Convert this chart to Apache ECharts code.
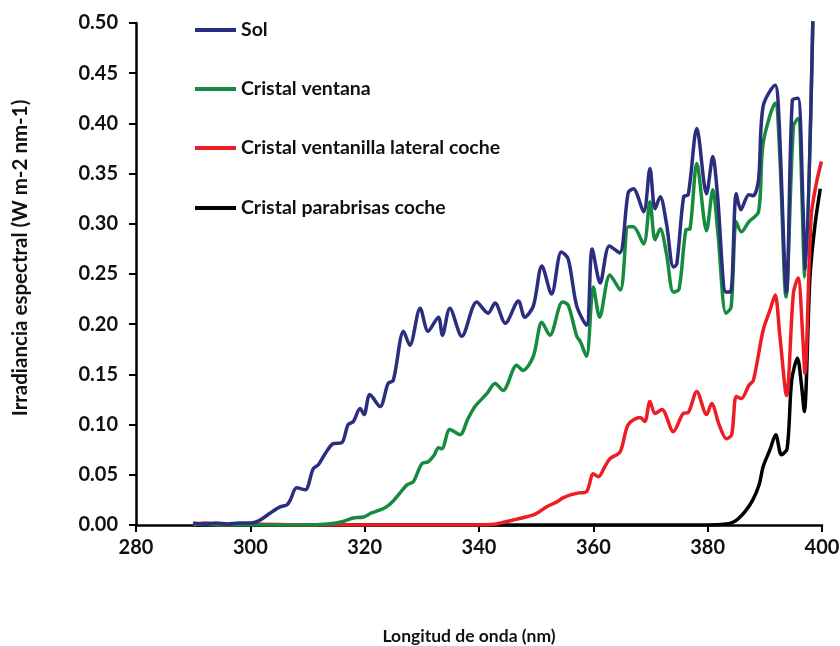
<!DOCTYPE html>
<html>
<head>
<meta charset="utf-8">
<script src="https://cdn.jsdelivr.net/npm/echarts@6/dist/echarts.min.js"></script>
<style>
html,body{margin:0;padding:0;background:#fff;}
#chart{width:840px;height:646px;}
</style>
</head>
<body>
<div id="chart"></div>
<script>
var xTicks = [280, 300, 320, 340, 360, 380, 400];
var yTicks = [0.00, 0.05, 0.10, 0.15, 0.20, 0.25, 0.30, 0.35, 0.40, 0.45, 0.50];
var seriesNames = ['Sol', 'Cristal ventana', 'Cristal ventanilla lateral coche', 'Cristal parabrisas coche'];

var solNm  = [290,292,294,296,298,300,301,302,303.5,305.2,306.4,307,308.1,309.6,311,311.9,313.2,314.5,316,317.1,318,319.2,319.9,320.9,322.7,324.1,325,326.8,327.9,329.7,331.1,332.9,333.6,334.9,337,339.6,341.6,342.8,344.6,346.9,348,349.5,351,352.7,354.4,355.6,357.1,358.8,359.8,361.2,362.8,364.6,366.1,367,368.8,369.9,370.8,371.7,372.8,374,374.6,375.8,376.6,378.1,379.8,380.9,381.7,383.2,384,385,385.8,387.2,388,388.9,389.7,391.8,392.4,393.8,394.8,395.8,396.7,397.1,398.6];
var solVal = [0.002,0.001,0.002,0.001,0.002,0.002,0.003,0.006,0.012,0.018,0.020,0.025,0.037,0.035,0.056,0.060,0.072,0.081,0.082,0.100,0.103,0.116,0.110,0.130,0.118,0.141,0.144,0.193,0.179,0.216,0.193,0.207,0.189,0.216,0.188,0.222,0.211,0.221,0.201,0.223,0.207,0.218,0.258,0.230,0.272,0.265,0.218,0.199,0.275,0.241,0.278,0.271,0.331,0.335,0.312,0.355,0.315,0.327,0.300,0.257,0.260,0.327,0.329,0.395,0.330,0.367,0.330,0.232,0.232,0.330,0.314,0.329,0.328,0.344,0.417,0.438,0.413,0.232,0.423,0.425,0.314,0.255,0.560];

var ventNm  = [290,300,310,315,316.5,318,319.8,321.2,322.7,323.8,325,326.2,327.4,328.5,330,331.1,332.2,332.9,333.5,334.9,336.7,338,339.3,341.4,342.8,344.2,346.6,347.7,349.5,351,352.4,354.6,355.6,357.1,357.7,358.8,360,361.1,362.9,364.7,366.1,367,368.8,369.9,370.8,371.7,372.8,374,375,376.2,376.9,378.1,379.8,380.9,381.8,383.2,384.1,385,385.9,387.2,388.9,389.7,391.8,392.6,393.7,395,395.8,397,398.6];
var ventVal = [0.001,0.000,0.000,0.002,0.004,0.007,0.008,0.012,0.015,0.018,0.024,0.032,0.040,0.043,0.061,0.063,0.070,0.077,0.076,0.095,0.090,0.105,0.118,0.131,0.141,0.134,0.159,0.154,0.168,0.202,0.189,0.222,0.219,0.188,0.183,0.168,0.237,0.207,0.249,0.234,0.297,0.297,0.280,0.322,0.284,0.295,0.270,0.232,0.235,0.294,0.295,0.360,0.293,0.334,0.290,0.211,0.217,0.302,0.292,0.302,0.312,0.380,0.420,0.370,0.227,0.397,0.405,0.247,0.560];

var latNm  = [290,292,295,300,310,320,330,340,343,344.5,346,347.5,349.5,350.5,351.8,353.6,354.7,356,357.5,358.8,360,360.9,362,362.9,364.7,366.1,368.2,369,369.9,370.8,372,374,375.7,376.6,378.1,379.8,380.7,382,383.3,384.2,385,385.9,387.2,388,389.7,390.9,391.8,392.6,393.8,395,395.8,396.7,397,398.1,399,399.9];
var latVal = [0.000,0.002,0.000,0.001,0.000,0.000,0.000,0.000,0.001,0.003,0.005,0.007,0.010,0.013,0.018,0.023,0.027,0.030,0.032,0.033,0.051,0.048,0.058,0.066,0.073,0.100,0.107,0.103,0.123,0.111,0.115,0.093,0.111,0.112,0.133,0.110,0.121,0.100,0.086,0.090,0.128,0.126,0.139,0.144,0.194,0.214,0.229,0.190,0.129,0.231,0.246,0.181,0.151,0.307,0.340,0.362];

var parNm  = [290,300,310,320,330,340,350,360,370,380,383.3,384.5,385.3,386.5,387.9,389,389.7,390.9,391.9,392.9,393.9,394.7,395.7,396.4,396.9,397.9,398.8,399.7];
var parVal = [0.000,0.000,0.000,0.000,0.000,0.000,0.000,0.000,0.000,0.000,0.001,0.003,0.006,0.013,0.025,0.040,0.058,0.075,0.090,0.070,0.076,0.144,0.166,0.140,0.113,0.247,0.300,0.335];

var colors = ['#2b2e7e', '#168b3d', '#ee1d25', '#000000'];

function pairs(xs, ys) { return xs.map(function (x, i) { return [x, ys[i]]; }); }

var FONT = 'Lato';
var chart = echarts.init(document.getElementById('chart'), null, {renderer: 'canvas'});

var dataSets = [pairs(solNm, solVal), pairs(ventNm, ventVal), pairs(latNm, latVal), pairs(parNm, parVal)];
var legendTops = [20, 79, 138, 198];

var option = {
  animation: false,
  backgroundColor: '#ffffff',
  grid: {left: 136, right: 18, top: 23, bottom: 121, containLabel: false, outerBoundsMode: 'none'},
  legend: seriesNames.map(function (n, i) {
    return {
      data: [n], left: 195, top: legendTops[i], orient: 'vertical', padding: 0,
      icon: 'rect', itemWidth: 41, itemHeight: 4,
      textStyle: {fontFamily: FONT, fontWeight: 'bold', fontSize: 19.5, color: '#111'},
      selectedMode: false
    };
  }),
  xAxis: {
    type: 'value', min: xTicks[0], max: xTicks[xTicks.length - 1], interval: 20,
    name: 'Longitud de onda (nm)', nameLocation: 'middle', nameGap: 102,
    nameTextStyle: {fontFamily: FONT, fontWeight: 'bold', fontSize: 17.5, color: '#111', padding: [0, 20, 0, 0]},
    axisLine: {onZero: false, lineStyle: {color: '#000', width: 2.5}},
    axisTick: {show: true, length: 7, lineStyle: {color: '#000', width: 2}},
    axisLabel: {fontFamily: FONT, fontWeight: 'bold', fontSize: 20, color: '#111', margin: 13},
    splitLine: {show: false}
  },
  yAxis: {
    type: 'value', min: yTicks[0], max: yTicks[yTicks.length - 1], interval: 0.05,
    name: 'Irradiancia espectral (W m-2 nm-1)', nameLocation: 'middle', nameGap: 105, nameRotate: 90,
    nameTextStyle: {fontFamily: FONT, fontWeight: 'bold', fontSize: 20.5, color: '#111', padding: [0, 0, 0, 32]},
    axisLine: {show: true, lineStyle: {color: '#000', width: 2.5}},
    axisTick: {show: true, length: 7, lineStyle: {color: '#000', width: 2}},
    axisLabel: {fontFamily: FONT, fontWeight: 'bold', fontSize: 20, color: '#111', margin: 18,
      formatter: function (v) { return v.toFixed(2); }},
    splitLine: {show: false}
  },
  series: seriesNames.map(function (n, i) {
    return {
      name: n, type: 'line', data: dataSets[i], smooth: 0.3, showSymbol: false, symbol: 'none',
      clip: true, z: 10 - i,
      lineStyle: {color: colors[i], width: 3.5}, itemStyle: {color: colors[i]}
    };
  })
};
chart.setOption(option);
</script>
</body>
</html>
